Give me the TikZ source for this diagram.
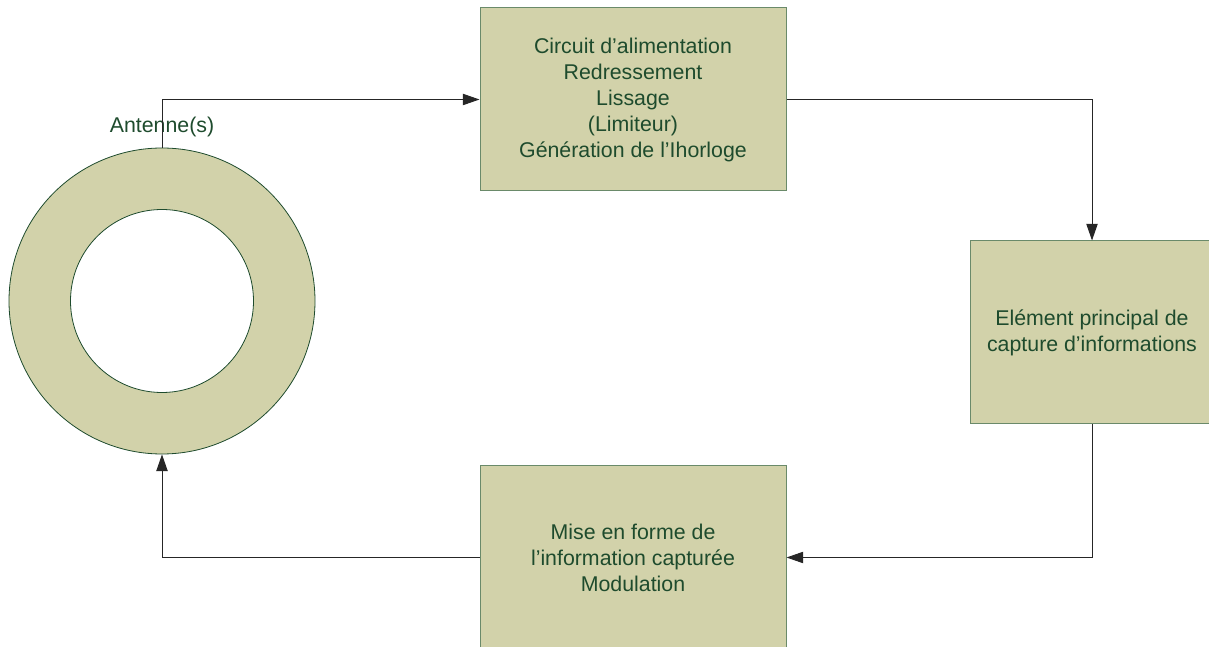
\documentclass[tikz,border=0pt]{standalone}
\usepackage{fontspec}
\setmainfont{Liberation Sans}
\usetikzlibrary{arrows.meta,positioning}
\definecolor{boxfill}{HTML}{D2D2AA}
\definecolor{boxline}{HTML}{6A8A6A}
\definecolor{boxtext}{HTML}{1E4B2D}

\begin{document}
\begin{tikzpicture}[
                    x=0.75pt, y=0.75pt,
                    block/.style={draw=boxline, line width=0.75pt, fill=boxfill, rectangle, minimum width=229.5pt, minimum height=137.25pt, inner sep=0pt, text=boxtext, font=\fontsize{16}{19.5}\selectfont, align=center},
                    ring/.style={draw=boxtext, line width=0.6pt, circle, inner sep=0pt},
                    link/.style={draw=black!85, line width=0.75pt, -{Triangle[length=12.5pt,width=8.5pt]}}
                ]
                    \useasboundingbox (0,0) rectangle (1209,646);
                    \node[ring, fill=boxfill, minimum size=229.5pt] (antenne) at (162,345) {};
                    \node[ring, fill=white, minimum size=137.25pt] (trou) at (antenne.center) {};
                    \node[text=boxtext, font=\fontsize{16}{19.5}\selectfont] (nom) at (162,519) {Antenne(s)};
                    \node[block] (alim) at (633,546.5) {Circuit d’alimentation \\ Redressement \\ Lissage \\ (Limiteur) \\ Génération de l’Ihorloge};
                    \node[block, minimum width=183pt, below right=36.75pt and 137.25pt of alim] (capture) {Elément principal de \\ capture d’informations};
                    \node[block, below=205.5pt of alim] (mise) {Mise en forme de \\ l’information capturée \\ Modulation};
                    \draw[link] (antenne.north) |- (alim.west);
                    \draw[link] (alim.east) -| (capture.north);
                    \draw[link] (capture.south) |- (mise.east);
                    \draw[link] (mise.west) -| (antenne.south);
                \end{tikzpicture}
\end{document}
